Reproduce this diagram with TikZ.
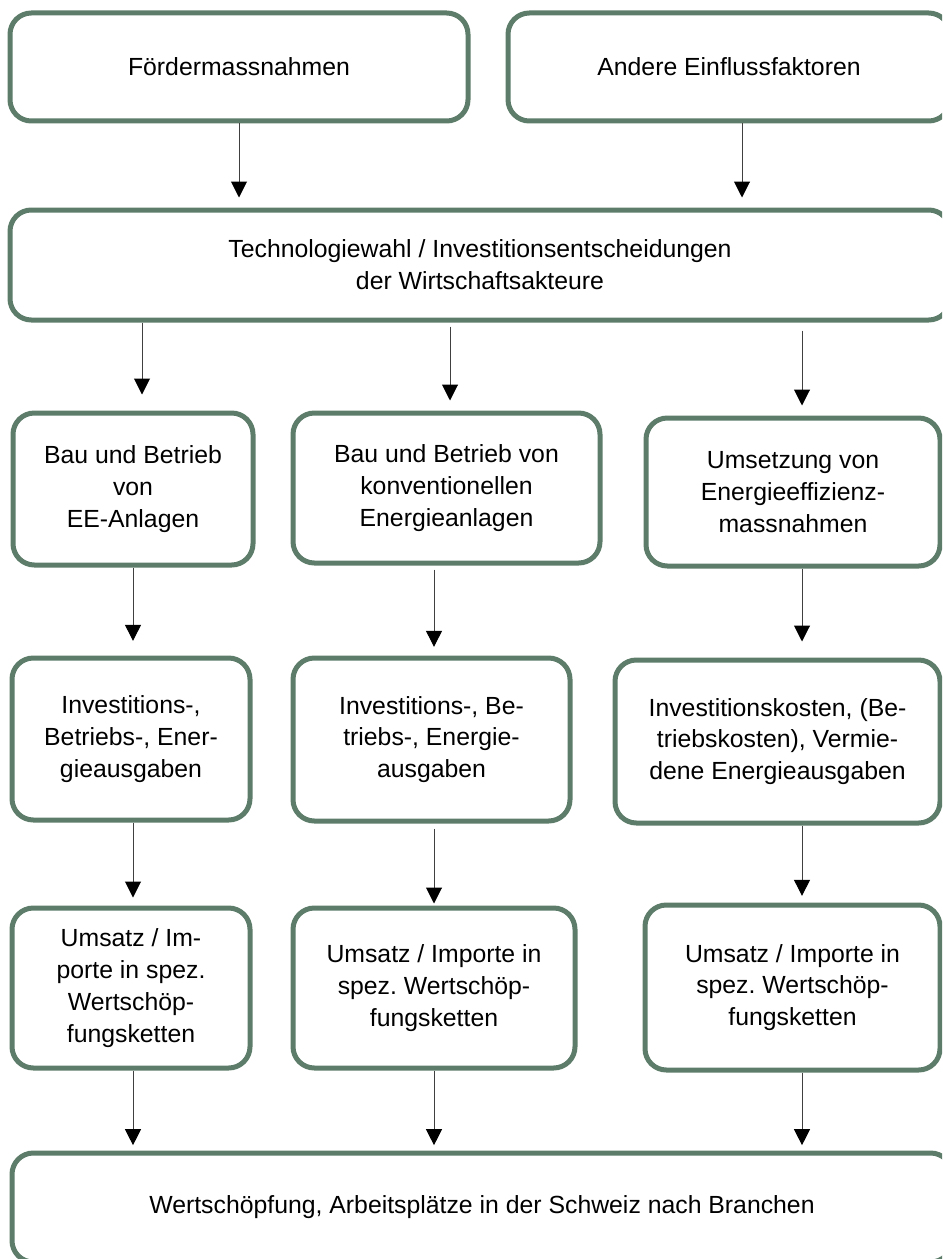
\documentclass[tikz,border=0pt]{standalone}
\usepackage{fontspec}
\setmainfont{Liberation Sans}
\usepackage{xcolor}
\usetikzlibrary{arrows.meta}

\definecolor{boxgreen}{RGB}{93,125,106}

\tikzset{
  box/.style={draw=boxgreen, line width=3.75pt, rounded corners=16pt, fill=white,
    align=center, inner sep=0pt, font=\fontsize{18.6}{23.8}\selectfont\frenchspacing},
  flow/.style={draw=black!75, line width=0.75pt,
    -{Triangle[width=12pt,length=12pt,color=black]}}
}

\begin{document}
\begin{tikzpicture}[x=0.75pt,y=0.75pt,yscale=-1,xscale=1]
\useasboundingbox (0,0) rectangle (942,1259);
\clip (0,0) rectangle (942,1259);

%Column positions of the arrows
\coordinate (xF) at (239,0);
\coordinate (xE) at (742,0);
\coordinate (xA0) at (142,0);
\coordinate (xA) at (133,0);
\coordinate (xB0) at (450,0);
\coordinate (xB) at (434,0);
\coordinate (xC) at (802,0);

%Top row
\node [box, minimum width=343.5pt, minimum height=81pt] (foerder) at (239,67) {Fördermassnahmen};
\node [box, minimum width=331.5pt, minimum height=81pt] (andere) at (729,67) {Andere Einflussfaktoren};
%Decision box
\node [box, minimum width=705pt, minimum height=82.5pt] (tech) at (480,265) {Technologiewahl / Investitionsentscheidungen\\der Wirtschaftsakteure};

%Row 2
\node [box, minimum width=180pt, minimum height=114pt] (bauEE) at (133,489) {Bau und Betrieb\\von\\EE-Anlagen};
\node [box, minimum width=230.25pt, minimum height=112.5pt] (bauKonv) at (446.5,488) {Bau und Betrieb von\\konventionellen\\Energieanlagen};
\node [box, minimum width=220.5pt, minimum height=111pt] (effizienz) at (793,492) {Umsetzung von\\Energieeffizienz-\\massnahmen};

%Row 3
\node [box, minimum width=178.5pt, minimum height=121.5pt] (ausgEE) at (131,739) {Investitions-,\\Betriebs-, Ener-\\gieausgaben};
\node [box, minimum width=207.75pt, minimum height=122.25pt] (ausgKonv) at (431.5,739.5) {Investitions-, Be-\\triebs-, Energie-\\ausgaben};
\node [box, minimum width=243.75pt, minimum height=122.25pt] (ausgEff) at (777.5,741.5) {Investitionskosten, (Be-\\triebskosten), Vermie-\\dene Energieausgaben};

%Row 4
\node [box, minimum width=178.5pt, minimum height=120pt] (umsEE) at (131,988) {Umsatz / Im-\\porte in spez.\\Wertschöp-\\fungsketten};
\node [box, minimum width=211.5pt, minimum height=120pt] (umsKonv) at (434,988) {Umsatz / Importe in\\spez. Wertschöp-\\fungsketten};
\node [box, minimum width=221.25pt, minimum height=123.75pt] (umsEff) at (792.5,987.5) {Umsatz / Importe in\\spez. Wertschöp-\\fungsketten};

%Result
\node [box, minimum width=705pt, minimum height=81.75pt] (wert) at (482,1207.5) {Wertschöpfung, Arbeitsplätze in der Schweiz nach Branchen};

%Straight Lines
\draw [flow, shorten >=7.5pt] (foerder.south -| xF) -- (tech.north -| xF);
\draw [flow, shorten >=7.5pt] (andere.south -| xE) -- (tech.north -| xE);
%Straight Lines
\draw [flow, shorten >=12pt] (tech.south -| xA0) -- (bauEE.north -| xA0);
\draw [flow, shorten >=7.5pt, shorten <=3pt] (tech.south -| xB0) -- (bauKonv.north -| xB0);
\draw [flow, shorten >=7.5pt, shorten <=6pt] (tech.south -| xC) -- (effizienz.north -| xC);
%Straight Lines
\draw [flow, shorten >=11pt] (bauEE.south -| xA) -- (ausgEE.north -| xA);
\draw [flow, shorten >=6.5pt, shorten <=3pt] (bauKonv.south -| xB) -- (ausgKonv.north -| xB);
\draw [flow, shorten >=12pt] (effizienz.south -| xC) -- (ausgEff.north -| xC);
%Straight Lines
\draw [flow, shorten >=6pt] (ausgEE.south -| xA) -- (umsEE.north -| xA);
\draw [flow, shorten >=1.5pt, shorten <=4pt] (ausgKonv.south -| xB) -- (umsKonv.north -| xB);
\draw [flow, shorten >=5pt] (ausgEff.south -| xC) -- (umsEff.north -| xC);
%Straight Lines
\draw [flow, shorten >=4pt] (umsEE.south -| xA) -- (wert.north -| xA);
\draw [flow, shorten >=4pt] (umsKonv.south -| xB) -- (wert.north -| xB);
\draw [flow, shorten >=4pt] (umsEff.south -| xC) -- (wert.north -| xC);

\end{tikzpicture}
\end{document}
